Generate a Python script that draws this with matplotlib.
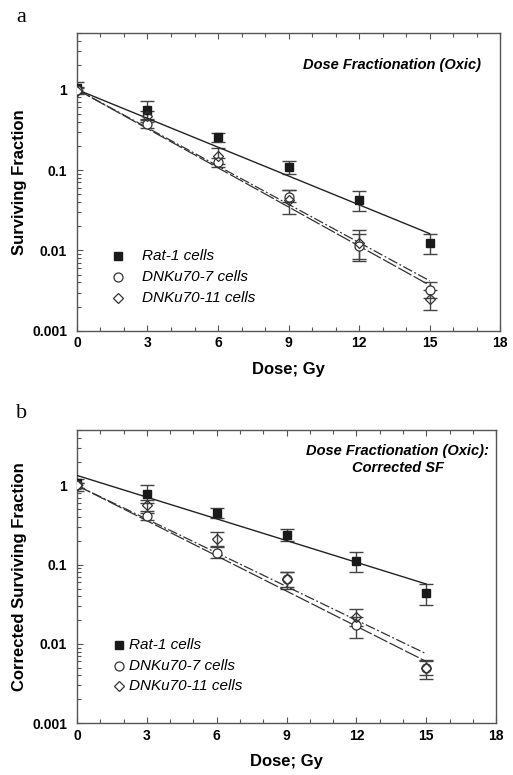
import numpy as np
import matplotlib
matplotlib.use("Agg")
import matplotlib.pyplot as plt
from matplotlib.ticker import FixedLocator, MultipleLocator, LogLocator, NullFormatter

plt.rcParams['font.family'] = ['Liberation Sans', 'DejaVu Sans']

dose = [0, 3, 6, 9, 12, 15]
fit_x = [0, 15]

# panel a: surviving fraction
a_rat = [1.05, 0.55, 0.26, 0.108, 0.043, 0.0125]
a_rat_lo = [0.87, 0.42, 0.22, 0.088, 0.031, 0.0091]
a_rat_hi = [1.25, 0.72, 0.29, 0.128, 0.055, 0.0158]
a_ku7 = [1.0, 0.37, 0.125, 0.046, 0.0115, 0.0032]
a_ku7_lo = [0.92, 0.33, 0.11, 0.040, 0.0078, 0.0026]
a_ku7_hi = [1.08, 0.43, 0.14, 0.056, 0.016, 0.0040]
a_ku11 = [0.97, 0.47, 0.15, 0.042, 0.0123, 0.0025]
a_ku11_lo = [0.90, 0.40, 0.12, 0.028, 0.0075, 0.0018]
a_ku11_hi = [1.05, 0.54, 0.19, 0.057, 0.018, 0.0032]
a_fit_rat = [1.0, 0.0162]
a_fit_ku7 = [1.0, 0.0037]
a_fit_ku11 = [1.0, 0.0042]

# panel b: corrected surviving fraction
b_rat = [1.08, 0.77, 0.45, 0.24, 0.112, 0.044]
b_rat_lo = [0.85, 0.60, 0.39, 0.20, 0.080, 0.031]
b_rat_hi = [1.20, 1.02, 0.52, 0.28, 0.144, 0.057]
b_ku7 = [1.0, 0.41, 0.141, 0.066, 0.0173, 0.0050]
b_ku7_lo = [0.92, 0.37, 0.12, 0.050, 0.012, 0.0036]
b_ku7_hi = [1.08, 0.45, 0.165, 0.080, 0.022, 0.0060]
b_ku11 = [1.0, 0.57, 0.21, 0.066, 0.022, 0.0050]
b_ku11_lo = [0.92, 0.47, 0.17, 0.052, 0.017, 0.0040]
b_ku11_hi = [1.08, 0.66, 0.256, 0.080, 0.0276, 0.0062]
b_fit_rat = [1.34, 0.057]
b_fit_ku7 = [1.0, 0.0060]
b_fit_ku11 = [1.0, 0.0075]

legend_labels = ['Rat-1 cells', 'DNKu70-7 cells', 'DNKu70-11 cells']

fig = plt.figure(figsize=(5.13, 7.75), dpi=100)
ax_a = fig.add_axes([0.150, 0.573, 0.825, 0.384])
ax_b = fig.add_axes([0.150, 0.067, 0.817, 0.378])

spine_c = '#555555'


def draw(ax, rat, rlo, rhi, k7, k7lo, k7hi, k11, k11lo, k11hi,
         frat, f7, f11, ylabel, leg_x, leg_text_x, leg_y):
    for y, lo, hi in [(rat, rlo, rhi), (k7, k7lo, k7hi), (k11, k11lo, k11hi)]:
        y = np.array(y)
        err = [y - np.array(lo), np.array(hi) - y]
        ax.errorbar(dose, y, yerr=err, fmt='none', ecolor='#444444',
                    elinewidth=1.0, capsize=5, capthick=1.0, zorder=2)
    ax.plot(fit_x, frat, '-', color='#222222', lw=1.0, zorder=3)
    ax.plot(fit_x, f7, color='#333333', lw=0.9, dashes=(12, 2), zorder=3)
    ax.plot(fit_x, f11, color='#333333', lw=0.9, dashes=(8, 2, 1.5, 2), zorder=3)
    m1, = ax.plot(dose, rat, 's', ms=5.5, mfc='#1a1a1a', mec='#1a1a1a', zorder=4)
    m2, = ax.plot(dose, k7, 'o', ms=6.5, mfc='white', mec='#333333', mew=0.9, zorder=4)
    m3, = ax.plot(dose, k11, 'D', ms=5.5, mfc='none', mec='#333333', mew=0.9, zorder=5)

    ax.set_yscale('log')
    ax.set_xlim(0, 18)
    ax.set_ylim(0.001, 5)
    ax.xaxis.set_major_locator(MultipleLocator(3))
    ax.xaxis.set_minor_locator(MultipleLocator(1))
    ax.yaxis.set_major_locator(FixedLocator([0.001, 0.01, 0.1, 1]))
    ax.yaxis.set_minor_locator(LogLocator(base=10, subs=np.arange(2, 10)))
    ax.yaxis.set_minor_formatter(NullFormatter())
    ax.set_yticklabels(['0.001', '0.01', '0.1', '1'])
    ax.tick_params(which='both', direction='in', top=True, right=False,
                   color=spine_c, width=0.8, labelsize=10)
    ax.tick_params(axis='x', pad=4)
    ax.tick_params(axis='y', pad=7)
    ax.tick_params(which='major', length=4)
    ax.tick_params(which='minor', length=3)
    for lab in ax.get_xticklabels() + ax.get_yticklabels():
        lab.set_fontweight('bold')
    for s in ax.spines.values():
        s.set_color(spine_c)
        s.set_linewidth(1.0)
    ax.set_xlabel('Dose; Gy', fontsize=12, fontweight='bold', labelpad=8)
    ax.set_ylabel(ylabel, fontsize=12, fontweight='bold', labelpad=4)

    for i, (mk, lab) in enumerate(zip([m1, m2, m3], legend_labels)):
        yy = leg_y - i * 0.071
        ax.plot([leg_x], [yy], marker=mk.get_marker(), ms=mk.get_markersize(),
                mfc=mk.get_mfc(), mec=mk.get_mec(), mew=mk.get_mew(),
                transform=ax.transAxes, clip_on=False)
        ax.text(leg_text_x, yy, lab, transform=ax.transAxes, fontsize=11,
                style='italic', va='center', ha='left')


draw(ax_a, a_rat, a_rat_lo, a_rat_hi, a_ku7, a_ku7_lo, a_ku7_hi,
     a_ku11, a_ku11_lo, a_ku11_hi, a_fit_rat, a_fit_ku7, a_fit_ku11,
     'Surviving Fraction', 0.098, 0.153, 0.253)
draw(ax_b, b_rat, b_rat_lo, b_rat_hi, b_ku7, b_ku7_lo, b_ku7_hi,
     b_ku11, b_ku11_lo, b_ku11_hi, b_fit_rat, b_fit_ku7, b_fit_ku11,
     'Corrected Surviving Fraction', 0.100, 0.125, 0.267)

ax_a.text(0.955, 0.893, 'Dose Fractionation (Oxic)', transform=ax_a.transAxes,
          fontsize=10.5, fontweight='bold', style='italic', ha='right', va='center')
ax_b.text(0.765, 0.900, 'Dose Fractionation (Oxic):\nCorrected SF', transform=ax_b.transAxes,
          fontsize=10.5, fontweight='bold', style='italic', ha='center', va='center',
          multialignment='center', linespacing=1.25)

fig.text(0.032, 0.978, 'a', family='Liberation Serif', fontsize=16, va='center', ha='left')
fig.text(0.032, 0.467, 'b', family='Liberation Serif', fontsize=16, va='center', ha='left')

fig.savefig('out.png', dpi=100)
